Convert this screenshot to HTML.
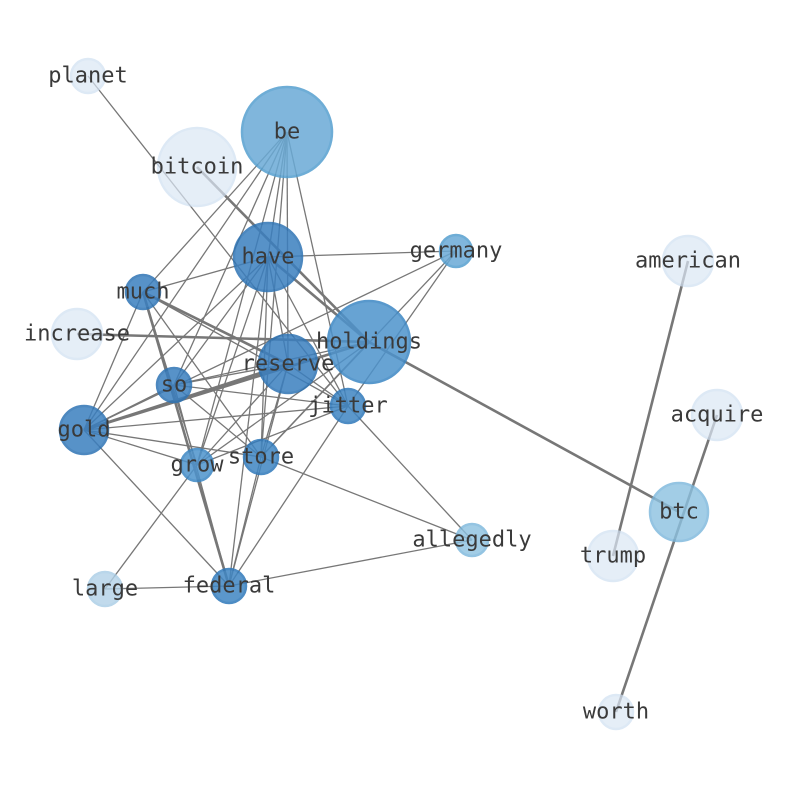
<!DOCTYPE html>
<html><head><meta charset="utf-8"><style>html,body{margin:0;padding:0;background:#fff}svg{display:block}text{font-family:"DejaVu Sans Mono","Liberation Mono",monospace;font-size:22px;fill:#3a3a3a;text-anchor:middle;dominant-baseline:central}</style></head><body>
<svg width="794" height="790" viewBox="0 0 794 790" xmlns="http://www.w3.org/2000/svg">
<g stroke="#777" stroke-width="1.3" fill="none">
<line x1="88" y1="76" x2="348" y2="406"/>
<line x1="287" y1="132" x2="268" y2="257"/>
<line x1="287" y1="132" x2="143" y2="292"/>
<line x1="287" y1="132" x2="174" y2="385"/>
<line x1="287" y1="132" x2="197" y2="465"/>
<line x1="287" y1="132" x2="261" y2="457"/>
<line x1="287" y1="132" x2="288" y2="364"/>
<line x1="287" y1="132" x2="84" y2="430"/>
<line x1="287" y1="132" x2="348" y2="406"/>
<line x1="268" y1="257" x2="456" y2="251"/>
<line x1="268" y1="257" x2="143" y2="292"/>
<line x1="268" y1="257" x2="84" y2="430"/>
<line x1="268" y1="257" x2="174" y2="385"/>
<line x1="268" y1="257" x2="197" y2="465"/>
<line x1="268" y1="257" x2="261" y2="457"/>
<line x1="268" y1="257" x2="288" y2="364"/>
<line x1="268" y1="257" x2="348" y2="406"/>
<line x1="268" y1="257" x2="229" y2="586"/>
<line x1="143" y1="292" x2="348" y2="406"/>
<line x1="143" y1="292" x2="84" y2="430"/>
<line x1="143" y1="292" x2="261" y2="457"/>
<line x1="143" y1="292" x2="197" y2="465"/>
<line x1="288" y1="364" x2="174" y2="385"/>
<line x1="288" y1="364" x2="197" y2="465"/>
<line x1="288" y1="364" x2="261" y2="457"/>
<line x1="288" y1="364" x2="229" y2="586"/>
<line x1="288" y1="364" x2="348" y2="406"/>
<line x1="369" y1="342" x2="174" y2="385"/>
<line x1="369" y1="342" x2="261" y2="457"/>
<line x1="369" y1="342" x2="197" y2="465"/>
<line x1="456" y1="251" x2="84" y2="430"/>
<line x1="456" y1="251" x2="261" y2="457"/>
<line x1="456" y1="251" x2="348" y2="406"/>
<line x1="174" y1="385" x2="348" y2="406"/>
<line x1="174" y1="385" x2="261" y2="457"/>
<line x1="174" y1="385" x2="84" y2="430"/>
<line x1="174" y1="385" x2="229" y2="586"/>
<line x1="84" y1="430" x2="348" y2="406"/>
<line x1="84" y1="430" x2="197" y2="465"/>
<line x1="84" y1="430" x2="261" y2="457"/>
<line x1="84" y1="430" x2="229" y2="586"/>
<line x1="197" y1="465" x2="105" y2="589"/>
<line x1="197" y1="465" x2="348" y2="406"/>
<line x1="261" y1="457" x2="229" y2="586"/>
<line x1="261" y1="457" x2="472" y2="540"/>
<line x1="348" y1="406" x2="472" y2="540"/>
<line x1="348" y1="406" x2="229" y2="586"/>
<line x1="229" y1="586" x2="105" y2="589"/>
<line x1="229" y1="586" x2="472" y2="540"/>
</g>
<g stroke="#777" stroke-width="2.6" fill="none">
<line x1="197" y1="167" x2="369" y2="342"/>
<line x1="369" y1="342" x2="679" y2="512"/>
<line x1="268" y1="257" x2="369" y2="342"/>
<line x1="143" y1="292" x2="288" y2="364"/>
<line x1="143" y1="292" x2="229" y2="586"/>
<line x1="77" y1="334" x2="369" y2="342"/>
<line x1="288" y1="364" x2="84" y2="430"/>
<line x1="369" y1="342" x2="84" y2="430"/>
<line x1="688" y1="261" x2="613" y2="556"/>
<line x1="717" y1="415" x2="616" y2="712"/>
</g>
<g stroke-width="2.5">
<circle cx="88" cy="76" r="17" fill="#dbe7f5" stroke="#d0e0f2" opacity="0.7"/>
<circle cx="197" cy="167" r="39" fill="#dbe7f5" stroke="#d0e0f2" opacity="0.7"/>
<circle cx="77" cy="334" r="25" fill="#dbe7f5" stroke="#d0e0f2" opacity="0.7"/>
<circle cx="688" cy="261" r="25" fill="#dbe7f5" stroke="#d0e0f2" opacity="0.7"/>
<circle cx="717" cy="415" r="25" fill="#dbe7f5" stroke="#d0e0f2" opacity="0.7"/>
<circle cx="613" cy="556" r="25" fill="#dbe7f5" stroke="#d0e0f2" opacity="0.7"/>
<circle cx="616" cy="712" r="17" fill="#dbe7f5" stroke="#d0e0f2" opacity="0.7"/>
<circle cx="105" cy="589" r="17" fill="#b2d2e8" stroke="#a8cce6" opacity="0.8"/>
<circle cx="287" cy="132" r="45" fill="#6aaad6" stroke="#559fd0" opacity="0.85"/>
<circle cx="456" cy="251" r="16" fill="#6aaad6" stroke="#559fd0" opacity="0.85"/>
<circle cx="679" cy="512" r="29" fill="#8cc1e0" stroke="#7ab6dc" opacity="0.8"/>
<circle cx="472" cy="540" r="16" fill="#8cc1e0" stroke="#7ab6dc" opacity="0.8"/>
<circle cx="197" cy="465" r="16" fill="#4d93cc" stroke="#3c87c4" opacity="0.85"/>
<circle cx="369" cy="342" r="41" fill="#4d93cc" stroke="#3c87c4" opacity="0.85"/>
<circle cx="261" cy="457" r="17" fill="#3f86c3" stroke="#2f78ba" opacity="0.85"/>
<circle cx="348" cy="406" r="17" fill="#3f86c3" stroke="#2f78ba" opacity="0.85"/>
<circle cx="229" cy="586" r="17" fill="#3f86c3" stroke="#2f78ba" opacity="0.85"/>
<circle cx="268" cy="257" r="34" fill="#3a7fbf" stroke="#2e74b5" opacity="0.85"/>
<circle cx="143" cy="292" r="17" fill="#3a7fbf" stroke="#2e74b5" opacity="0.85"/>
<circle cx="288" cy="364" r="29" fill="#3a7fbf" stroke="#2e74b5" opacity="0.85"/>
<circle cx="174" cy="385" r="17" fill="#3a7fbf" stroke="#2e74b5" opacity="0.85"/>
<circle cx="84" cy="430" r="24" fill="#3a7fbf" stroke="#2e74b5" opacity="0.85"/>
</g>
<g>
<text x="88" y="76">planet</text>
<text x="287" y="132">be</text>
<text x="197" y="167">bitcoin</text>
<text x="268" y="257">have</text>
<text x="456" y="251">germany</text>
<text x="688" y="261">american</text>
<text x="143" y="292">much</text>
<text x="77" y="334">increase</text>
<text x="369" y="342">holdings</text>
<text x="288" y="364">reserve</text>
<text x="174" y="385">so</text>
<text x="348" y="406">jitter</text>
<text x="717" y="415">acquire</text>
<text x="84" y="430">gold</text>
<text x="197" y="465">grow</text>
<text x="261" y="457">store</text>
<text x="679" y="512">btc</text>
<text x="472" y="540">allegedly</text>
<text x="613" y="556">trump</text>
<text x="105" y="589">large</text>
<text x="229" y="586">federal</text>
<text x="616" y="712">worth</text>
</g>
</svg>
</body></html>
